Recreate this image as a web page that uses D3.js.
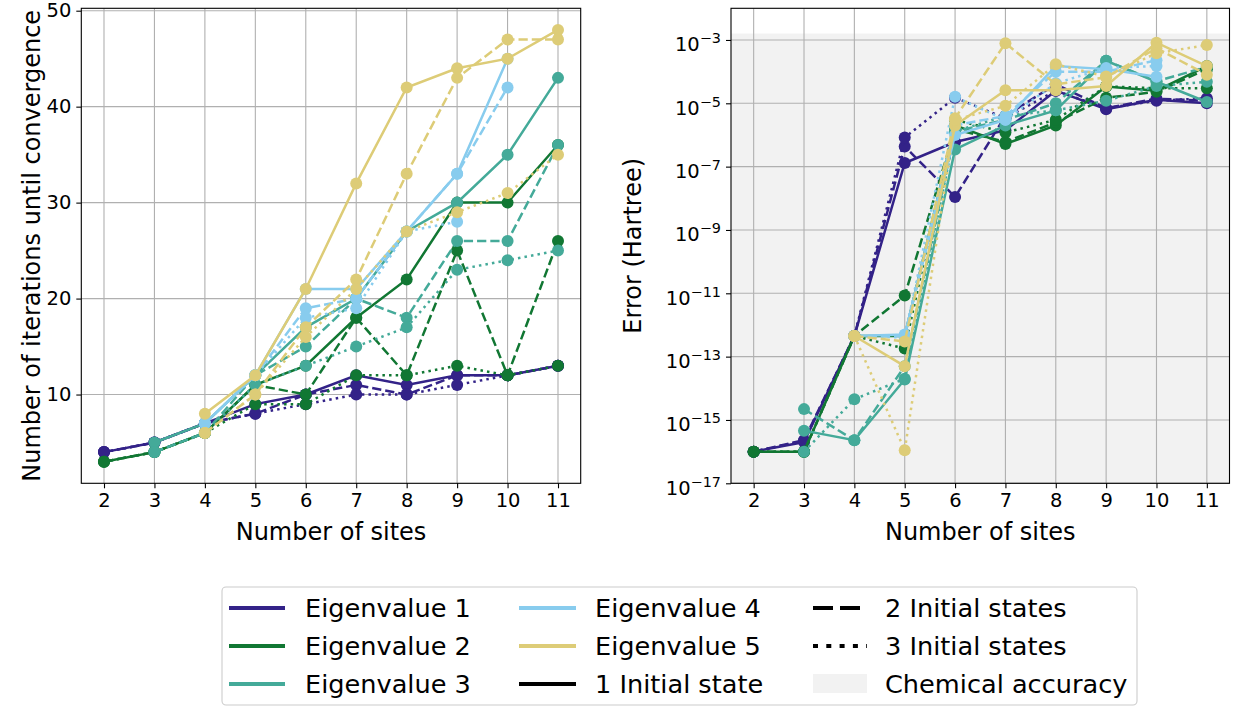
<!DOCTYPE html>
<html><head><meta charset="utf-8">
<script src="https://cdn.jsdelivr.net/npm/d3@7"></script>
<style>
body{margin:0;background:#fff;}
svg{font-family:"DejaVu Sans",sans-serif;}
</style></head>
<body><svg id="c" width="1236" height="707"></svg>
<script>
// ---------- data ----------
const sites = [2,3,4,5,6,7,8,9,10,11];
const xTicks = [2,3,4,5,6,7,8,9,10,11];
const iterTicks = [10,20,30,40,50];
const errTicks = [1e-17,1e-15,1e-13,1e-11,1e-9,1e-7,1e-5,1e-3];
const eigenNames = ["Eigenvalue 1","Eigenvalue 2","Eigenvalue 3","Eigenvalue 4","Eigenvalue 5"];
const stateNames = ["1 Initial state","2 Initial states","3 Initial states"];
const chemAcc = 1.6e-3;

// iterations until convergence [eigenvalue][initial states]
const iterE1S1 = [4,5,7,9,10,12,11,12,12,13];
const iterE1S2 = [4,5,7,8,10,11,10,12,12,13];
const iterE1S3 = [4,5,7,8,9,10,10,11,12,13];
const iterE2S1 = [3,4,6,11,13,18,22,30,30,36];
const iterE2S2 = [3,4,6,11,10,18,12,25,12,26];
const iterE2S3 = [3,4,6,9,9,12,12,13,12,13];
const iterE3S1 = [null,5,7,12,17,20,27,30,35,43];
const iterE3S2 = [null,4,6,12,15,20,18,26,26,36];
const iterE3S3 = [null,4,6,11,13,15,17,23,24,25];
const iterE4S1 = [null,null,7,12,21,21,27,33,45,null];
const iterE4S2 = [null,null,7,12,19,20,27,33,42,null];
const iterE4S3 = [null,null,7,12,18,19,27,28,null,null];
const iterE5S1 = [null,null,8,12,21,32,42,44,45,48];
const iterE5S2 = [null,null,6,10,17,22,33,43,47,47];
const iterE5S3 = [null,null,6,10,16,21,27,29,31,35];

// error (Hartree)
const errE1S1 = [1e-16,2e-16,4.5e-13,1.3e-7,6e-7,1.4e-6,2.5e-5,6.5e-6,1.3e-5,1.0e-5];
const errE1S2 = [1e-16,2.3e-16,4.5e-13,4.3e-7,1.1e-8,4e-6,4e-5,7e-6,1.4e-5,1.2e-5];
const errE1S3 = [1e-16,2.2e-16,4.5e-13,8.3e-7,1.5e-5,3.4e-6,2.5e-5,7e-6,1.2e-5,1.45e-5];
const errE2S1 = [1e-16,1e-16,4.5e-13,4.5e-13,2e-6,5.2e-7,2e-6,3.4e-5,2.5e-5,1.5e-4];
const errE2S2 = [1e-16,1e-16,4.5e-13,8.5e-12,1.5e-6,6e-7,2.5e-6,1.5e-5,2.3e-5,1.2e-4];
const errE2S3 = [1e-16,1e-16,4.5e-13,1.8e-13,3e-6,1.2e-6,3e-6,3.4e-5,3e-5,3e-5];
const errE3S1 = [null,4.6e-16,2.3e-16,1.9e-14,3.5e-7,2e-6,6e-6,2.2e-4,4.8e-5,1.1e-5];
const errE3S2 = [null,2.2e-15,2.3e-16,5e-14,1.3e-6,3e-6,1e-5,2.2e-4,5e-5,1.4e-4];
const errE3S3 = [null,1e-16,4.5e-15,2e-14,1.3e-6,4e-6,6e-6,1.2e-5,3.5e-5,4.8e-5];
const errE4S1 = [null,null,4.5e-13,5e-13,1e-6,3e-6,1.5e-4,1.2e-4,6.9e-5,null];
const errE4S2 = [null,null,4.5e-13,4.5e-13,2e-6,4e-6,1e-4,1e-4,2.3e-4,null];
const errE4S3 = [null,null,4.5e-13,4e-13,1.6e-5,3e-6,4.3e-5,1.3e-4,1.5e-4,null];
const errE5S1 = [null,null,4.5e-13,5e-14,2e-6,2.6e-5,2.6e-5,3.5e-5,8.2e-4,1.5e-4];
const errE5S2 = [null,null,4.5e-13,3e-13,3.4e-6,7.9e-4,4e-5,6.6e-5,5.5e-4,8e-5];
const errE5S3 = [null,null,4.5e-13,1.1e-16,3e-6,8.3e-6,1.7e-4,7e-5,3.8e-4,6.9e-4];

const iterData = [[iterE1S1,iterE1S2,iterE1S3],[iterE2S1,iterE2S2,iterE2S3],[iterE3S1,iterE3S2,iterE3S3],[iterE4S1,iterE4S2,iterE4S3],[iterE5S1,iterE5S2,iterE5S3]];
const errData = [[errE1S1,errE1S2,errE1S3],[errE2S1,errE2S2,errE2S3],[errE3S1,errE3S2,errE3S3],[errE4S1,errE4S2,errE4S3],[errE5S1,errE5S2,errE5S3]];

// ---------- style ----------
const colors = ["#332288","#117733","#44AA99","#88CCEE","#DDCC77"];
const LW = 2.5;
const dashes = [null, `${3.7*LW},${1.6*LW}`, `${1*LW},${1.65*LW}`];
const gridColor = "#b0b0b0";
const tickFont = 19.5, labelFont = 24, legendFont = 25.6;

const svg = d3.select("#c");

function panel(opts){
  const {x, y, xLabel, yLabel, yLabelX, data, yTicks, yFormat, shade} = opts;
  const g = svg.append("g");
  const [x0,x1] = x.range(), [y0,y1] = y.range(); // y0 bottom, y1 top
  if(shade){
    g.append("rect").attr("x",x0).attr("width",x1-x0)
     .attr("y",y(shade)).attr("height",y0-y(shade)).attr("fill","#f2f2f2");
  }
  // grid
  g.selectAll(".gx").data(xTicks).join("line")
    .attr("x1",d=>x(d)).attr("x2",d=>x(d)).attr("y1",y0).attr("y2",y1)
    .attr("stroke",gridColor).attr("stroke-width",1.1);
  g.selectAll(".gy").data(yTicks).join("line")
    .attr("y1",d=>y(d)).attr("y2",d=>y(d)).attr("x1",x0).attr("x2",x1)
    .attr("stroke",gridColor).attr("stroke-width",1.1);
  // series
  const clip = "clip"+Math.round(x0);
  svg.append("clipPath").attr("id",clip).append("rect")
    .attr("x",x0).attr("y",y1).attr("width",x1-x0).attr("height",y0-y1);
  const pg = g.append("g").attr("clip-path",`url(#${clip})`);
  data.forEach((eig,ei)=>{
    eig.forEach((vals,si)=>{
      const pts = sites.map((s,i)=>[s,vals[i]]);
      const line = d3.line().defined(d=>d[1]!=null).x(d=>x(d[0])).y(d=>y(d[1]));
      pg.append("path").attr("d",line(pts)).attr("fill","none")
        .attr("stroke",colors[ei]).attr("stroke-width",LW)
        .attr("stroke-dasharray",dashes[si]);
      pg.selectAll(null).data(pts.filter(d=>d[1]!=null)).join("circle")
        .attr("cx",d=>x(d[0])).attr("cy",d=>y(d[1])).attr("r",6)
        .attr("fill",colors[ei]);
    });
  });
  // spines
  g.append("rect").attr("x",x0).attr("y",y1).attr("width",x1-x0).attr("height",y0-y1)
    .attr("fill","none").attr("stroke","#000").attr("stroke-width",1.1);
  // x axis
  const xa = g.append("g").attr("transform",`translate(0,${y0})`)
    .call(d3.axisBottom(x).tickValues(xTicks).tickSize(5).tickPadding(5).tickFormat(d3.format("d")));
  xa.select(".domain").remove();
  xa.selectAll("line").attr("stroke","#000").attr("stroke-width",1.1);
  xa.selectAll("text").attr("font-size",tickFont).attr("fill","#000").attr("font-family","DejaVu Sans");
  // y axis
  const ya = g.append("g").attr("transform",`translate(${x0},0)`)
    .call(d3.axisLeft(y).tickValues(yTicks).tickSize(5).tickPadding(5).tickFormat(()=>""));
  ya.select(".domain").remove();
  ya.selectAll("line").attr("stroke","#000").attr("stroke-width",1.1);
  ya.selectAll(".tick text").each(function(d){ yFormat(d3.select(this), d); })
    .attr("font-size",tickFont).attr("fill","#000").attr("font-family","DejaVu Sans");
  // labels
  g.append("text").attr("x",(x0+x1)/2).attr("y",y0+57).attr("text-anchor","middle")
    .attr("font-size",labelFont).text(xLabel);
  g.append("text").attr("transform",`translate(${yLabelX},${(y0+y1)/2}) rotate(-90)`)
    .attr("text-anchor","middle").attr("dominant-baseline","central")
    .attr("font-size",labelFont).text(yLabel);
}

const xL = d3.scaleLinear().domain([1.55,11.45]).range([81.3,580.7]);
const yL = d3.scaleLinear().domain([0.75,50.25]).range([483.3,8.3]);
panel({x:xL,y:yL,xLabel:"Number of sites",yLabel:"Number of iterations until convergence",
  yLabelX:32,data:iterData,yTicks:iterTicks,
  yFormat:(t,d)=>t.text(d)});

const xR = d3.scaleLinear().domain([1.55,11.45]).range([731,1229.5]);
const yR = d3.scaleLog().domain([1e-17,1e-2]).range([483.3,8.3]);
panel({x:xR,y:yR,xLabel:"Number of sites",yLabel:"Error (Hartree)",
  yLabelX:633,data:errData,yTicks:errTicks,shade:chemAcc,
  yFormat:(t,d)=>{
    const e = Math.round(Math.log10(d));
    t.text(null);
    t.append("tspan").text("10");
    t.append("tspan").attr("dy","-0.55em").attr("font-size","0.74em").text("\u2212"+Math.abs(e));
    t.attr("dy","0.55em");
  }});

// ---------- legend ----------
const lg = svg.append("g");
lg.append("rect").attr("x",222).attr("y",587).attr("width",915).attr("height",118)
  .attr("rx",4).attr("fill","#fff").attr("fill-opacity",0.8)
  .attr("stroke","#cccccc").attr("stroke-width",1.1);
const legendItems = [
  {col:0,row:0,type:"line",color:colors[0],label:eigenNames[0]},
  {col:0,row:1,type:"line",color:colors[1],label:eigenNames[1]},
  {col:0,row:2,type:"line",color:colors[2],label:eigenNames[2]},
  {col:1,row:0,type:"line",color:colors[3],label:eigenNames[3]},
  {col:1,row:1,type:"line",color:colors[4],label:eigenNames[4]},
  {col:1,row:2,type:"line",color:"#000",label:stateNames[0]},
  {col:2,row:0,type:"line",color:"#000",dash:"20,7",label:stateNames[1]},
  {col:2,row:1,type:"line",color:"#000",dash:"5,8.3",label:stateNames[2]},
  {col:2,row:2,type:"patch",color:"#f2f2f2",label:"Chemical accuracy"}
];
const colX = [[229,285,305],[519,576,595],[813,867,885]];
const rowY = [608,646,684];
legendItems.forEach(it=>{
  const [hx0,hx1,tx] = colX[it.col], cy = rowY[it.row];
  if(it.type==="line"){
    lg.append("line").attr("x1",hx0).attr("x2",hx1).attr("y1",cy).attr("y2",cy)
      .attr("stroke",it.color).attr("stroke-width",4.2).attr("stroke-dasharray",it.dash||null);
  } else {
    lg.append("rect").attr("x",hx0).attr("y",cy-10).attr("width",hx1-hx0).attr("height",19)
      .attr("fill",it.color);
  }
  lg.append("text").attr("x",tx).attr("y",cy).attr("dominant-baseline","central")
    .attr("font-size",legendFont).text(it.label);
});
</script></body></html>
